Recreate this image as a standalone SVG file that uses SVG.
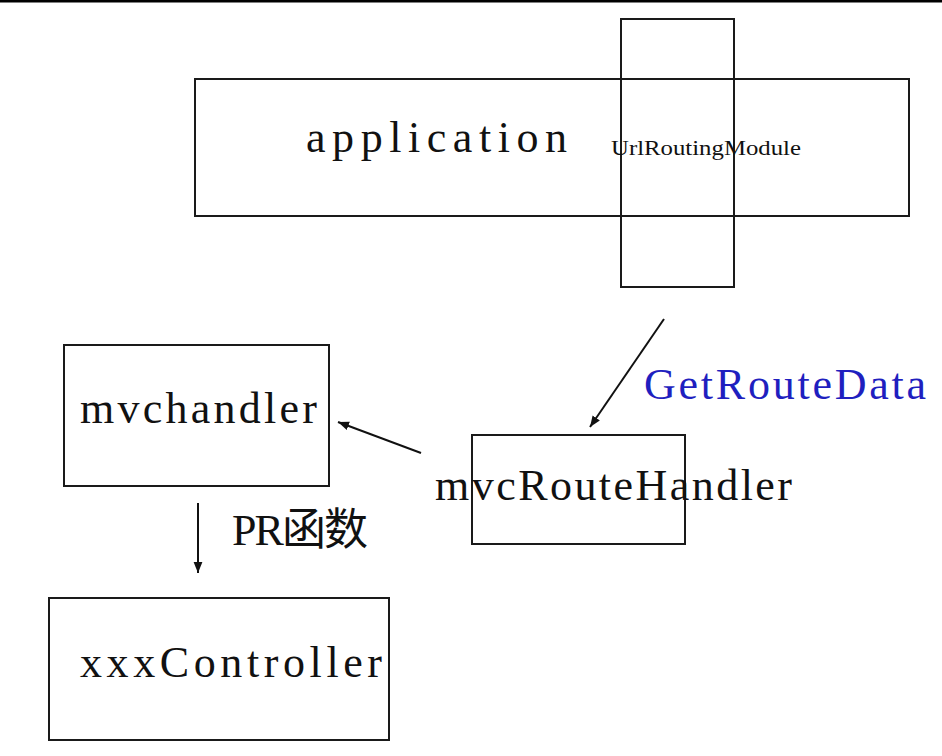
<svg xmlns="http://www.w3.org/2000/svg" width="942" height="756" viewBox="0 0 942 756">
<defs>
<marker id="ah" viewBox="0 0 10 10" refX="10" refY="5" markerWidth="11" markerHeight="11" markerUnits="userSpaceOnUse" orient="auto">
<path d="M0,1 L10,5 L0,9 Z" fill="#111"/>
</marker>
<style>
.box{fill:none;stroke:#1a1a1a;stroke-width:2}
.t{font-family:"Liberation Serif","Noto Sans CJK SC",serif;fill:#111;font-size:44px}
.s{font-size:22px}
.blue{fill:#1f1fbf}
.c{stroke:#111;stroke-width:2;fill:none;marker-end:url(#ah)}
</style>
</defs>
<rect width="942" height="756" fill="#fff"/>
<rect x="0" y="0" width="942" height="2.5" fill="#000"/>
<g id="application">
<rect class="box" x="195" y="79" width="714" height="137"/>
<text class="t" x="306" y="152" textLength="261" lengthAdjust="spacing">application</text>
</g>
<g id="urlRoutingModule">
<rect class="box" x="621" y="19" width="113" height="268"/>
<text class="t s" x="611" y="155" textLength="190" lengthAdjust="spacingAndGlyphs">UrlRoutingModule</text>
</g>
<g id="mvchandler">
<rect class="box" x="64" y="345" width="265" height="141"/>
<text class="t" x="80" y="423" textLength="237" lengthAdjust="spacing">mvchandler</text>
</g>
<g id="mvcRouteHandler">
<rect class="box" x="472" y="435" width="213" height="109"/>
<text class="t" x="435" y="500" textLength="357" lengthAdjust="spacing">mvcRouteHandler</text>
</g>
<g id="xxxController">
<rect class="box" x="49" y="598" width="340" height="142"/>
<text class="t" x="80" y="677" textLength="302" lengthAdjust="spacing">xxxController</text>
</g>
<g id="connectors">
<line class="c" x1="664" y1="319" x2="590" y2="427"/>
<line class="c" x1="421" y1="453" x2="338" y2="422"/>
<line class="c" x1="198" y1="503" x2="198" y2="573"/>
<text class="t blue" x="644" y="399" textLength="282" lengthAdjust="spacing">GetRouteData</text>
<text class="t" x="232" y="545" textLength="136" lengthAdjust="spacing">PR函数</text>
</g>
</svg>
